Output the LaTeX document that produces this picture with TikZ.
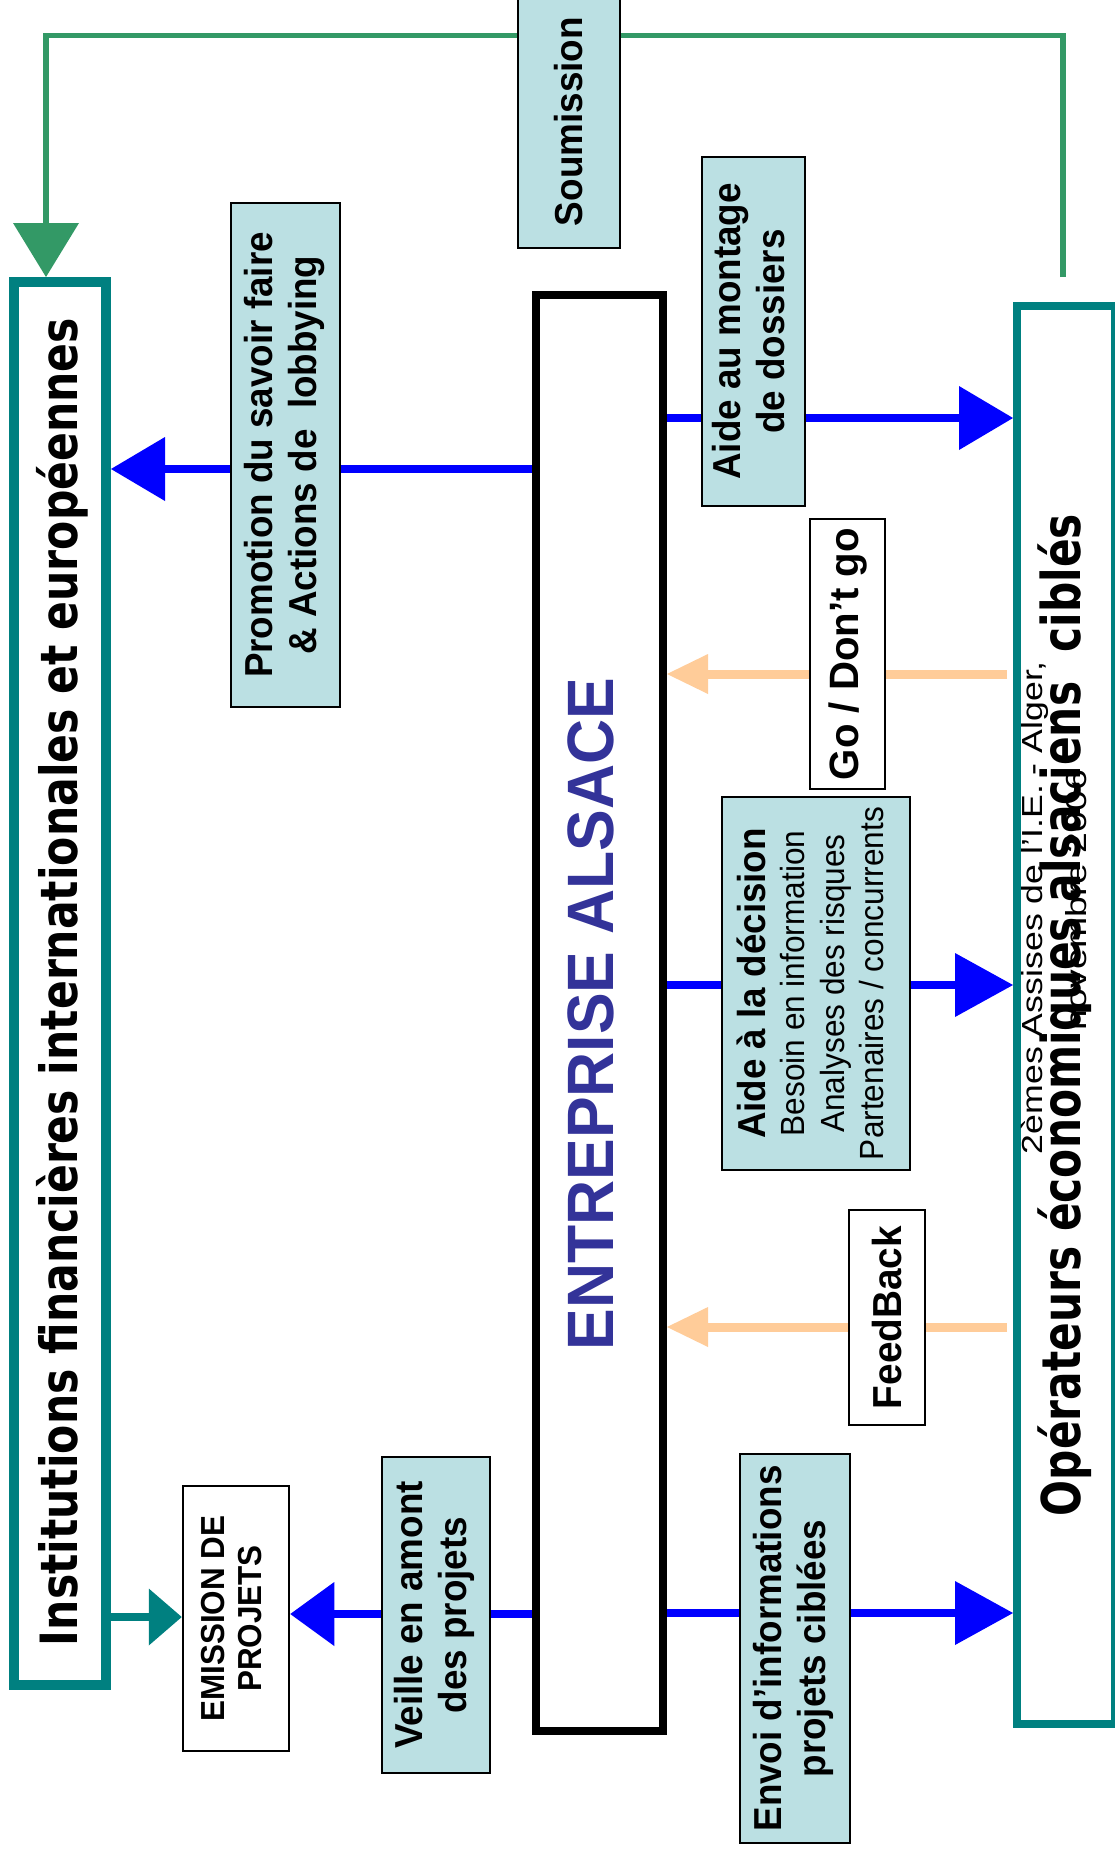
\documentclass[tikz,border=0pt]{standalone}
\usepackage{fontspec}
\setmainfont{Liberation Sans}
\newfontfamily\verdf{DejaVu Sans}
\usetikzlibrary{arrows.meta}
\definecolor{tealc}{RGB}{0,128,128}
\definecolor{greenc}{RGB}{51,153,102}
\definecolor{lbluec}{RGB}{187,224,227}
\definecolor{orangec}{RGB}{255,204,153}
\definecolor{navyc}{RGB}{51,51,153}
\definecolor{bluec}{RGB}{0,0,255}
\newlength\fitlen
\newcommand\fitto[2]{\settowidth{\fitlen}{#2}\pgfmathsetmacro\fitfac{#1/\fitlen}\scalebox{\fitfac}[1]{#2}}
\newcommand\lbl[1]{\rotatebox{90}{\scalebox{1}[1.06]{\begin{tabular}{@{}c@{}}#1\end{tabular}}}}
\begin{document}
\begin{tikzpicture}[x=1pt,y=-1pt,
  tealbox/.style={draw=tealc, line width=10pt, fill=white, inner sep=0pt},
  entbox/.style={draw=black, line width=8pt, fill=white, inner sep=0pt},
  lblbox/.style={draw=black, line width=2pt, fill=lbluec, inner sep=0pt, font=\fontsize{36.8}{41.5}\selectfont\bfseries},
  whitebox/.style={lblbox, fill=white},
  txt/.style={rotate=90, anchor=base, inner sep=0pt},
  bluearr/.style={draw=bluec, line width=8pt, -{Triangle[length=54pt,width=64pt,line width=0pt]}},
  orarr/.style={draw=orangec, line width=9pt, -{Triangle[length=41pt,width=40pt,line width=0pt]}},
  tealarr/.style={draw=tealc, line width=8pt, -{Triangle[length=33pt,width=57pt,line width=0pt]}},
  greenarr/.style={draw=greenc, line width=5.5pt, -{Triangle[length=54pt,width=66pt,line width=0pt]}}
]
\useasboundingbox (0,0) rectangle (1114,1857);
\fill[white] (0,0) rectangle (1114,1857);

% main boxes
\node[tealbox, minimum width=92pt, minimum height=1403pt] (inst) at (60,983.5) {};
\node[tealbox, line width=8pt, minimum width=98pt, minimum height=1418pt] (opr) at (1066,1015) {};
\node[entbox, minimum width=127pt, minimum height=1436pt] (ent) at (599.5,1013) {};
\node[whitebox, line width=2.5pt, font=\fontsize{31.4}{35}\selectfont\bfseries, minimum width=106pt, minimum height=265pt] (emis) at (236,1618.5) {\lbl{EMISSION DE\\PROJETS}};

% green feedback loop
\coordinate (gs) at (1063,277);
\coordinate (gc1) at (1063,35.5);
\coordinate (gc2) at (46,35.5);
\draw[greenarr] (gs) -- (gc1) -- (gc2) -- (inst.north -| 46,0);

% connectors
\draw[bluearr] (ent.west |- 0,469) -- (inst.east |- 0,469);
\draw[bluearr, -{Triangle[length=44pt,width=64pt,line width=0pt]}] (ent.west |- 0,1614) -- (emis.east |- 0,1614);
\draw[bluearr] (ent.east |- 0,418) -- (opr.west |- 0,418);
\draw[bluearr, -{Triangle[length=58pt,width=64pt,line width=0pt]}] (ent.east |- 0,985) -- (opr.west |- 0,985);
\draw[bluearr, -{Triangle[length=58pt,width=64pt,line width=0pt]}] (ent.east |- 0,1613) -- (opr.west |- 0,1613);
\draw[orarr, shorten <=6pt] (opr.west |- 0,674) -- (ent.east |- 0,674);
\draw[orarr, shorten <=6pt] (opr.west |- 0,1327) -- (ent.east |- 0,1327);
\draw[tealarr] (inst.east |- 0,1617) -- (emis.west |- 0,1617);

% label boxes
\node[lblbox, minimum width=102pt, minimum height=253pt, font=\fontsize{39}{39}\selectfont\bfseries] (soum) at (569,121.5) {\rotatebox{90}{\fitto{209}{Soumission}}};
\node[lblbox, minimum width=109pt, minimum height=504pt] (prom) at (285.5,455) {\lbl{Promotion du savoir faire\\\& Actions de~~lobbying}};
\node[lblbox, minimum width=103pt, minimum height=349pt] (mont) at (753.5,331.5) {\lbl{Aide au montage\\de dossiers}};
\node[whitebox, minimum width=75pt, minimum height=270pt, font=\fontsize{41}{41}\selectfont\bfseries] (go) at (847.5,654) {\rotatebox{90}{\fitto{252}{Go / Don’t go}}};
\node[lblbox, minimum width=188pt, minimum height=373pt, font=\fontsize{31.6}{37}\selectfont] (dec) at (816,983.5) {\lbl{{\fontsize{36.8}{37}\selectfont\bfseries Aide à la décision}\\Besoin en information\\Analyses des risques\\Partenaires / concurrents}};
\node[whitebox, minimum width=76pt, minimum height=215pt, font=\fontsize{40.5}{40.5}\selectfont\bfseries] (fb) at (887,1317.5) {\rotatebox{90}{\fitto{183}{FeedBack}}};
\node[lblbox, minimum width=110pt, minimum height=389pt] (envoi) at (795,1648.5) {\lbl{Envoi d’informations\\projets ciblées}};
\node[lblbox, minimum width=108pt, minimum height=316pt] (veille) at (436,1615) {\lbl{Veille en amont\\des projets}};

% big texts
\node[txt, font=\verdf\fontsize{51.4}{51.4}\selectfont\bfseries] (instT) at (77,982) {\fitto{1328}{Institutions financières internationales et européennes}};
\node[txt, font=\verdf\fontsize{53.5}{53.5}\selectfont\bfseries] (oprT) at (1080,1015) {\fitto{1002}{Opérateurs économiques alsaciens~~ciblés}};
\node[txt, text=navyc, font=\fontsize{65.6}{65.6}\selectfont\bfseries] (entT) at (613,1014) {\fitto{673}{ENTREPRISE ALSACE}};
\node[txt, font=\fontsize{29}{29}\selectfont] (foot1) at (1042,908) {\fitto{492}{2èmes Assises de l’I.E. - Alger,}};
\node[txt, font=\fontsize{29}{29}\selectfont] (foot2) at (1086,900) {\fitto{260}{novembre 2006}};
\end{tikzpicture}
\end{document}
